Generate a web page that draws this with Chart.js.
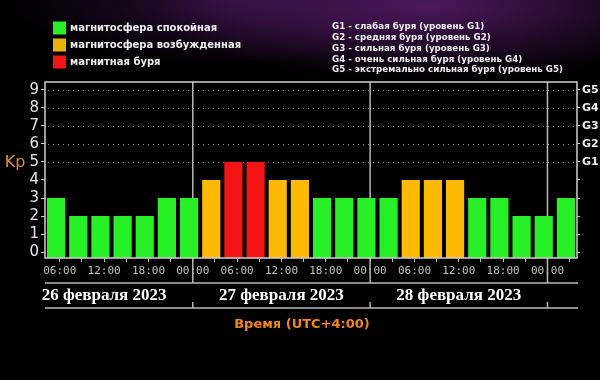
<!DOCTYPE html>
<html>
<head>
<meta charset="utf-8">
<script src="https://cdn.jsdelivr.net/npm/chart.js@4.4.0/dist/chart.umd.min.js"></script>
<style>
  html, body { margin: 0; padding: 0; }
  body {
    width: 600px; height: 380px; overflow: hidden;
    background:
      radial-gradient(ellipse 280px 75px at 430px 5px, rgba(95, 30, 115, 0.8), rgba(0,0,0,0) 100%),
      radial-gradient(ellipse 220px 65px at 230px 0px, rgba(65, 20, 85, 0.65), rgba(0,0,0,0) 100%),
      #000;
  }
  #wrap { position: relative; width: 600px; height: 380px; }
</style>
</head>
<body>
<div id="wrap"><canvas id="kpChart" width="600" height="380"></canvas></div>
<script>
// начало 3-часовых интервалов, часы от 26.02 00:00 (UTC+4)
const binStart = [4, 7, 10, 13, 16, 19, 22, 25, 28, 31, 34, 37, 40, 43, 46, 49, 52, 55, 58, 61, 64, 67, 70, 73];
const kpValues = [3, 2, 2, 2, 2, 3, 3, 4, 5, 5, 4, 4, 3, 3, 3, 3, 4, 4, 4, 3, 3, 2, 2, 3];

const timeTicks = [6, 9, 12, 15, 18, 21, 24, 27, 30, 33, 36, 39, 42, 45, 48, 51, 54, 57, 60, 63, 66, 69, 72, 75];
const kpTicks = [0, 1, 2, 3, 4, 5, 6, 7, 8, 9];
const gLabels = ['G1', 'G2', 'G3', 'G4', 'G5'];
const gLevels = [5, 6, 7, 8, 9];
const gNotes = [
  'G1 - слабая буря (уровень G1)',
  'G2 - средняя буря (уровень G2)',
  'G3 - сильная буря (уровень G3)',
  'G4 - очень сильная буря (уровень G4)',
  'G5 - экстремально сильная буря (уровень G5)'
];
const dayStarts = [0, 24, 48];
const dayLabels = ['26 февраля 2023', '27 февраля 2023', '28 февраля 2023'];
const legendLabels = ['магнитосфера спокойная', 'магнитосфера возбужденная', 'магнитная буря'];

const GREEN = '#27f027', ORANGE = '#fdba05', RED = '#f41414';
const legendColors = [GREEN, '#e8b30a', RED];
const xMin = 4, xMax = 76, yMin = -0.33, yMax = 9.44;

function kpColor(v) {
  if (v >= 5) return RED;
  if (v >= 4) return ORANGE;
  return GREEN;
}
function hh(v) {
  const h = v % 24;
  return (h < 10 ? '0' : '') + h + ':00';
}

const overlay = {
  id: 'overlay',
  beforeDatasetsDraw(chart) {
    const { ctx, chartArea: a, scales: { x, y } } = chart;
    ctx.save();
    // пунктир уровней G
    ctx.strokeStyle = 'rgba(200,200,200,0.75)';
    ctx.lineWidth = 1;
    ctx.setLineDash([1, 4]);
    gLevels.forEach(v => {
      const py = Math.round(y.getPixelForValue(v)) + 0.5;
      ctx.beginPath(); ctx.moveTo(a.left + 3, py); ctx.lineTo(a.right - 2, py); ctx.stroke();
    });
    ctx.setLineDash([]);
    // границы суток
    ctx.strokeStyle = '#b9b9b9';
    ctx.lineWidth = 1.5;
    dayStarts.map(d => d + 24).forEach(d => {
      const px = x.getPixelForValue(d);
      ctx.beginPath(); ctx.moveTo(px, a.top); ctx.lineTo(px, 283); ctx.stroke();
      ctx.beginPath(); ctx.moveTo(px, 302); ctx.lineTo(px, 308); ctx.stroke();
    });
    ctx.restore();
  },
  afterDraw(chart) {
    const { ctx, chartArea: a, scales: { x, y } } = chart;
    ctx.save();
    // рамка
    ctx.strokeStyle = '#cfcfcf';
    ctx.lineWidth = 1.5;
    ctx.strokeRect(a.left, a.top, a.right - a.left, a.bottom - a.top);
    // линии под осью
    ctx.strokeStyle = '#b9b9b9';
    ctx.beginPath(); ctx.moveTo(a.left, 283); ctx.lineTo(a.right + 1, 283); ctx.stroke();
    ctx.beginPath(); ctx.moveTo(a.left, 308); ctx.lineTo(a.right + 1, 308); ctx.stroke();

    // даты
    ctx.fillStyle = '#ffffff';
    ctx.font = 'bold 17px "Liberation Serif"';
    ctx.textAlign = 'center';
    ctx.textBaseline = 'middle';
    dayLabels.forEach((t, i) => {
      ctx.fillText(t, x.getPixelForValue(dayStarts[i] + 12), 296);
    });

    // подпись оси времени
    ctx.fillStyle = '#f0861c';
    ctx.font = 'bold 13px "DejaVu Sans"';
    ctx.fillText('Время (UTC+4:00)', 302, 325);

    // Kp
    ctx.font = '16px "DejaVu Sans"';
    ctx.fillStyle = '#e8901e';
    ctx.fillText('Kp', 15, y.getPixelForValue(5) + 1);

    // легенда слева
    ctx.textAlign = 'left';
    ctx.font = 'bold 10px "DejaVu Sans"';
    legendLabels.forEach((t, i) => {
      const cy = 28 + i * 17;
      ctx.fillStyle = legendColors[i];
      ctx.fillRect(53, cy - 6.5, 13, 13);
      ctx.fillStyle = '#f0f0f0';
      ctx.fillText(t, 70, cy);
    });

    // легенда справа
    ctx.font = 'bold 8.7px "DejaVu Sans"';
    ctx.fillStyle = '#f0f0f0';
    gNotes.forEach((t, i) => {
      ctx.fillText(t, 332, 27 + i * 10.8);
    });
    ctx.restore();
  }
};

const ctx = document.getElementById('kpChart').getContext('2d');
const kpChart = new Chart(ctx, {
  type: 'bar',
  data: {
    datasets: [{
      label: 'Kp',
      data: binStart.map((h, i) => ({ x: h + 1.5, y: kpValues[i] })),
      backgroundColor: kpValues.map(kpColor),
      borderWidth: 0,
      base: yMin,
      barPercentage: 0.82,
      categoryPercentage: 1.0
    }]
  },
  options: {
    responsive: false,
    animation: false,
    layout: { padding: { top: 82, left: 0, right: 0, bottom: 92 } },
    plugins: {
      legend: { display: false },
      tooltip: { enabled: false }
    },
    scales: {
      x: {
        type: 'linear',
        min: xMin,
        max: xMax,
        offset: false,
        afterBuildTicks: s => { s.ticks = timeTicks.map(v => ({ value: v })); },
        afterFit: s => { s.height = 30; },
        grid: { offset: false, drawOnChartArea: false, drawTicks: true, tickLength: 4, color: '#bdbdbd' },
        border: { display: false },
        ticks: {
          autoSkip: false,
          maxRotation: 0,
          padding: 3,
          color: '#c4c4c4',
          font: { family: '"DejaVu Sans Mono"', size: 11 },
          callback: v => (v % 6 === 0 ? hh(v) : '')
        }
      },
      y: {
        position: 'left',
        min: yMin,
        max: yMax,
        afterBuildTicks: s => { s.ticks = kpTicks.map(v => ({ value: v })); },
        afterFit: s => { s.width = 45; },
        grid: { drawOnChartArea: false, drawTicks: true, tickLength: 4, color: '#cfcfcf' },
        border: { display: false },
        ticks: {
          autoSkip: false,
          padding: 2,
          color: '#e6e6e6',
          font: { family: '"DejaVu Sans"', size: 15 }
        }
      },
      y2: {
        position: 'right',
        min: yMin,
        max: yMax,
        afterBuildTicks: s => { s.ticks = kpTicks.map(v => ({ value: v })); },
        afterFit: s => { s.width = 23; },
        grid: { drawOnChartArea: false, drawTicks: true, tickLength: 3, color: '#cfcfcf' },
        border: { display: false },
        ticks: {
          autoSkip: false,
          padding: 2,
          color: '#f0f0f0',
          font: { family: '"DejaVu Sans"', size: 11, weight: 'bold' },
          callback: v => { const k = gLevels.indexOf(v); return k >= 0 ? gLabels[k] : ''; }
        }
      }
    }
  },
  plugins: [overlay]
});
</script>
</body>
</html>
